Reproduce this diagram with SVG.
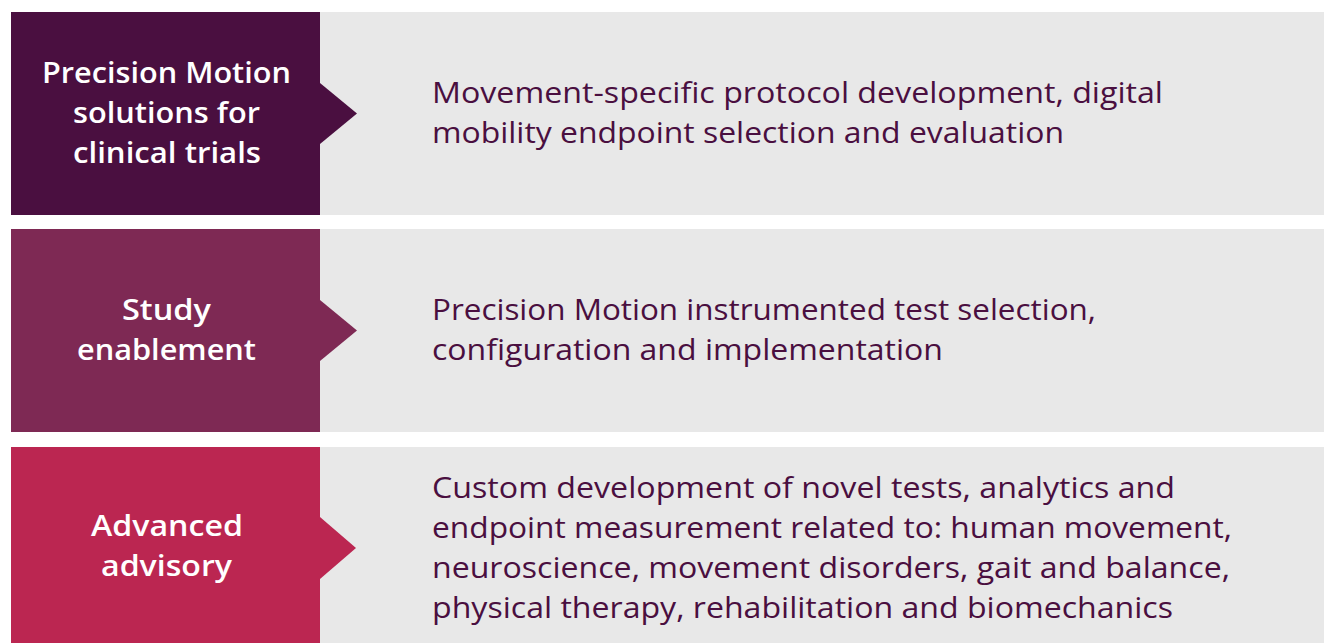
<svg xmlns="http://www.w3.org/2000/svg" width="1324" height="643" viewBox="0 0 1324 643">
<style>
.bg{fill:#e8e8e8}
.t{font-family:"Open Sans","Noto Sans",sans-serif;font-weight:600;font-size:28px;fill:#ffffff}
.d{font-family:"Open Sans","Noto Sans",sans-serif;font-weight:400;font-size:29px;fill:#4a0f40}
.c1{fill:#4a0f40}.c2{fill:#7e2954}.c3{fill:#bb2651}
</style>
<rect x="0" y="0" width="1324" height="643" fill="#ffffff"/>
<g id="row1">
<rect class="bg" x="320" y="12" width="1004" height="203"/>
<rect class="c1" x="11" y="12" width="309" height="203"/>
<polygon class="c1" points="320,83 357,113.5 320,144"/>
<text class="t" x="42" y="83" textLength="249" lengthAdjust="spacingAndGlyphs">Precision Motion</text>
<text class="t" x="73" y="123" textLength="187" lengthAdjust="spacingAndGlyphs">solutions for</text>
<text class="t" x="73" y="163" textLength="188" lengthAdjust="spacingAndGlyphs">clinical trials</text>
<text class="d" x="432" y="103" textLength="731" lengthAdjust="spacingAndGlyphs">Movement-specific protocol development, digital</text>
<text class="d" x="432" y="143" textLength="632" lengthAdjust="spacingAndGlyphs">mobility endpoint selection and evaluation</text>
</g>
<g id="row2">
<rect class="bg" x="320" y="229" width="1004" height="203"/>
<rect class="c2" x="11" y="229" width="309" height="203"/>
<polygon class="c2" points="320,300 357,330.5 320,361"/>
<text class="t" x="122" y="320" textLength="89" lengthAdjust="spacingAndGlyphs">Study</text>
<text class="t" x="77" y="360" textLength="179" lengthAdjust="spacingAndGlyphs">enablement</text>
<text class="d" x="432" y="320" textLength="664" lengthAdjust="spacingAndGlyphs">Precision Motion instrumented test selection,</text>
<text class="d" x="432" y="360" textLength="511" lengthAdjust="spacingAndGlyphs">configuration and implementation</text>
</g>
<g id="row3">
<rect class="bg" x="320" y="447" width="1004" height="196"/>
<rect class="c3" x="11" y="447" width="309" height="196"/>
<polygon class="c3" points="320,517 356,548 320,579"/>
<text class="t" x="91" y="536" textLength="152" lengthAdjust="spacingAndGlyphs">Advanced</text>
<text class="t" x="101" y="576" textLength="131" lengthAdjust="spacingAndGlyphs">advisory</text>
<text class="d" x="432" y="498" textLength="743" lengthAdjust="spacingAndGlyphs">Custom development of novel tests, analytics and</text>
<text class="d" x="432" y="538" textLength="800" lengthAdjust="spacingAndGlyphs">endpoint measurement related to: human movement,</text>
<text class="d" x="432" y="578" textLength="798" lengthAdjust="spacingAndGlyphs">neuroscience, movement disorders, gait and balance,</text>
<text class="d" x="432" y="618" textLength="741" lengthAdjust="spacingAndGlyphs">physical therapy, rehabilitation and biomechanics</text>
</g>
<g id="connectors"></g>
</svg>
